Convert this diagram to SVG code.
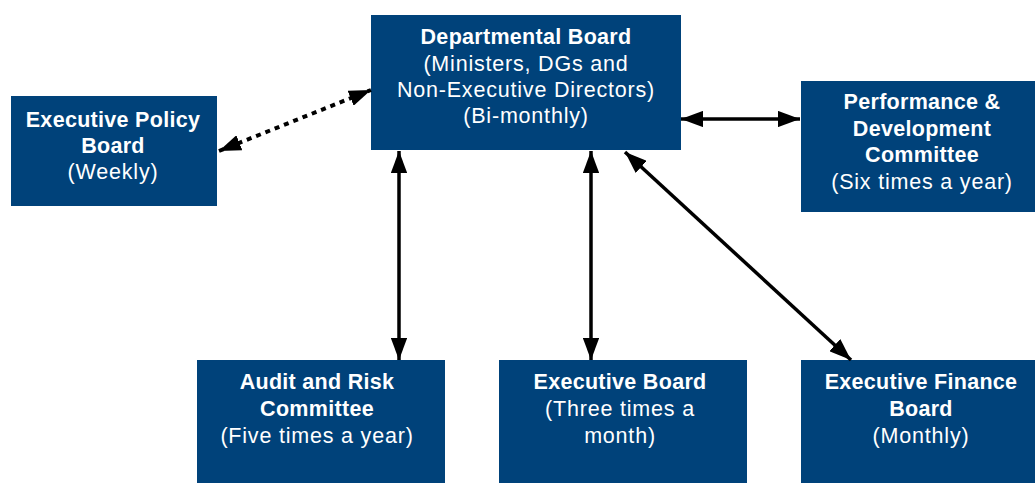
<svg xmlns="http://www.w3.org/2000/svg" width="1035" height="483" viewBox="0 0 1035 483">
<defs>
<style>
.box{fill:#00427A}
.t{font-family:"Liberation Sans",Arial,sans-serif;font-size:21.5px;fill:#fff;text-anchor:middle;letter-spacing:0.8px}
.b{font-weight:bold;letter-spacing:0.3px}
.c{stroke:#000;stroke-width:3.5;fill:none}
.d{stroke-dasharray:5 5;stroke-width:4}
</style>
<marker id="ah" viewBox="0 0 10 7.4" refX="10" refY="3.7" markerWidth="6.3" markerHeight="4.66" markerUnits="strokeWidth" orient="auto-start-reverse">
<path d="M0,0 L10,3.7 L0,7.4 Z" fill="#000"/>
</marker>
<marker id="ahd" viewBox="0 0 10 7.4" refX="10" refY="3.7" markerWidth="5.5" markerHeight="4.07" markerUnits="strokeWidth" orient="auto-start-reverse">
<path d="M0,0 L10,3.7 L0,7.4 Z" fill="#000"/>
</marker>
</defs>
<rect width="1035" height="483" fill="#fff"/>
<g id="departmental-board">
<rect class="box" x="371" y="15" width="310" height="135"/>
<text class="t b" x="526" y="44">Departmental Board</text>
<text class="t" x="526" y="71">(Ministers, DGs and</text>
<text class="t" x="526" y="97">Non-Executive Directors)</text>
<text class="t" x="526" y="123">(Bi-monthly)</text>
</g>
<g id="executive-policy-board">
<rect class="box" x="11" y="96" width="206" height="110"/>
<text class="t b" x="113" y="127">Executive Policy</text>
<text class="t b" x="113" y="153">Board</text>
<text class="t" x="113" y="179">(Weekly)</text>
</g>
<g id="performance-development-committee">
<rect class="box" x="801" y="81" width="234" height="131"/>
<text class="t b" x="922" y="109">Performance &amp;</text>
<text class="t b" x="922" y="136">Development</text>
<text class="t b" x="922" y="162">Committee</text>
<text class="t" x="922" y="189">(Six times a year)</text>
</g>
<g id="audit-risk-committee">
<rect class="box" x="197" y="360" width="248" height="123"/>
<text class="t b" x="317" y="389">Audit and Risk</text>
<text class="t b" x="317" y="416">Committee</text>
<text class="t" x="317" y="443">(Five times a year)</text>
</g>
<g id="executive-board">
<rect class="box" x="499" y="360" width="248" height="123"/>
<text class="t b" x="620" y="389">Executive Board</text>
<text class="t" x="620" y="416">(Three times a</text>
<text class="t" x="620" y="443">month)</text>
</g>
<g id="executive-finance-board">
<rect class="box" x="801" y="360" width="234" height="123"/>
<text class="t b" x="921" y="389">Executive Finance</text>
<text class="t b" x="921" y="416">Board</text>
<text class="t" x="921" y="443">(Monthly)</text>
</g>
<g id="connectors">
<line class="c d" x1="219" y1="151" x2="371" y2="90" marker-start="url(#ahd)" marker-end="url(#ahd)"/>
<line class="c" x1="681" y1="119" x2="800" y2="119" marker-start="url(#ah)" marker-end="url(#ah)"/>
<line class="c" x1="399" y1="151" x2="399" y2="360" marker-start="url(#ah)" marker-end="url(#ah)"/>
<line class="c" x1="591" y1="151" x2="591" y2="360" marker-start="url(#ah)" marker-end="url(#ah)"/>
<line class="c" x1="625" y1="152" x2="851" y2="360" marker-start="url(#ah)" marker-end="url(#ah)"/>
</g>
</svg>
